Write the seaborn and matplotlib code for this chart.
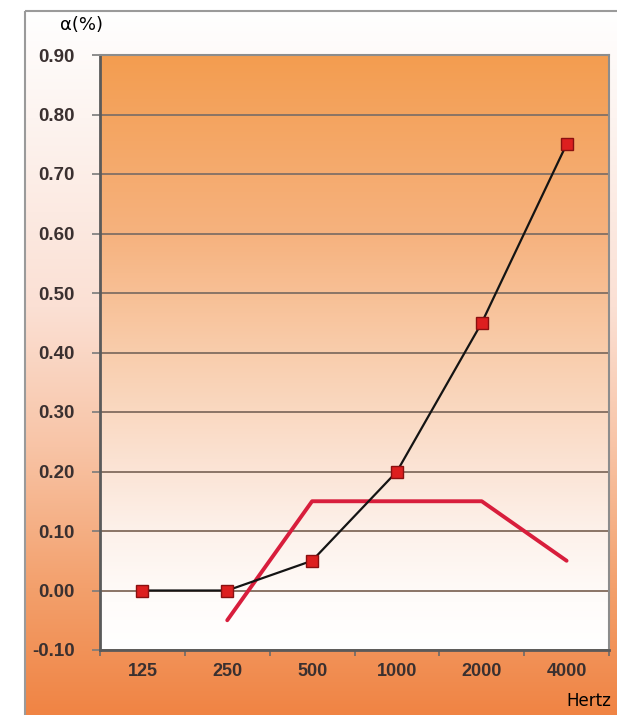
import numpy as np
import pandas as pd
import matplotlib
matplotlib.use("Agg")
import matplotlib.pyplot as plt
from matplotlib.colors import LinearSegmentedColormap
from matplotlib.patches import Rectangle
import seaborn as sns

# Octave-band frequencies (Hz) and absorption coefficients
frequencies = ["125", "250", "500", "1000", "2000", "4000"]
absorption = [0.00, 0.00, 0.05, 0.20, 0.45, 0.75]
reference_curve = [np.nan, -0.05, 0.15, 0.15, 0.15, 0.05]
y_ticks = [-0.10, 0.00, 0.10, 0.20, 0.30, 0.40, 0.50, 0.60, 0.70, 0.80, 0.90]

sns.set_theme(style="white")
plt.rcParams["font.family"] = ["Liberation Sans", "DejaVu Sans"]

fig = plt.figure(figsize=(6.17, 7.15), dpi=100)
fig.patch.set_facecolor("white")

# Outer panel: white at the top fading to orange at the bottom
bg = fig.add_axes([0, 0, 1, 1], zorder=-5)
bg.set_xlim(0, 617)
bg.set_ylim(715, 0)
bg.axis("off")
outer_cmap = LinearSegmentedColormap.from_list(
    "outer",
    [(0.0, "#ffffff"), (0.15, "#fdf4f0"), (0.42, "#fbe0d4"),
     (0.62, "#f8c4a6"), (0.82, "#f3a06c"), (1.0, "#f08444")])
grad = np.linspace(0, 1, 256).reshape(-1, 1)
bg.imshow(grad, cmap=outer_cmap, aspect="auto", extent=(25, 617, 715, 11))
bg.add_patch(Rectangle((25, 11), 600, 710, fill=False, edgecolor="#9a9a9a", lw=1.5))
bg.text(60, 30, "α(%)", fontsize=13, color="black", ha="left", va="baseline",
        family=["DejaVu Sans"])
bg.text(566, 706, "Hertz", fontsize=12, color="black", ha="left", va="baseline",
        family=["DejaVu Sans"])

ax = fig.add_axes([100 / 617, 65 / 715, 509 / 617, 595 / 715])

# Plot area: orange at the top fading to white at the bottom
inner_cmap = LinearSegmentedColormap.from_list(
    "inner",
    [(0.0, "#ffffff"), (0.08, "#fffcfa"), (0.2, "#fdf1ea"), (0.32, "#fbe2d2"),
     (0.5, "#f9cdac"), (0.7, "#f6b27e"), (1.0, "#f39d50")])
ax.imshow(grad[::-1], cmap=inner_cmap, aspect="auto",
          extent=(-0.5, 5.5, -0.10, 0.90), zorder=0, origin="upper")

df = pd.DataFrame({"pos": range(len(frequencies)),
                   "absorption": absorption,
                   "reference": reference_curve})

for y in y_ticks:
    ax.axhline(y, color="#8a7466", lw=1.4, zorder=1)

sns.lineplot(data=df.dropna(subset=["reference"]), x="pos", y="reference", ax=ax,
             color="#d81e3c", lw=2.8, zorder=3)
sns.lineplot(data=df, x="pos", y="absorption", ax=ax, color="#141414", lw=1.6,
             marker="s", markersize=9, markerfacecolor="#dd1f1f",
             markeredgecolor="#8a1010", markeredgewidth=1.0, zorder=4)

ax.set_xlim(-0.5, 5.5)
ax.set_ylim(-0.10, 0.90)
ax.set_xticks(range(len(frequencies)))
ax.set_xticklabels(frequencies)
ax.set_xticks(np.arange(-0.5, 6.0, 1.0), minor=True)
ax.set_yticks(y_ticks)
ax.set_yticklabels([f"{v:.2f}" for v in y_ticks])
ax.set_xlabel("")
ax.set_ylabel("")

ax.tick_params(axis="x", which="major", length=0, pad=9, labelsize=13,
               labelcolor="#3a3030")
ax.tick_params(axis="x", which="minor", length=4, width=1.2, color="#6a6a6a",
               direction="out", bottom=True)
ax.tick_params(axis="y", which="major", length=6, width=1.2, color="#7a7a7a",
               direction="out", left=True, pad=12, labelsize=13.5,
               labelcolor="#3a3030")
for lab in ax.get_xticklabels() + ax.get_yticklabels():
    lab.set_fontweight("bold")

for side in ["left", "bottom"]:
    ax.spines[side].set_color("#5a5a5a")
    ax.spines[side].set_linewidth(2.0)
for side in ["top", "right"]:
    ax.spines[side].set_color("#8c8c8c")
    ax.spines[side].set_linewidth(1.5)

fig.savefig("out.png", dpi=100)
